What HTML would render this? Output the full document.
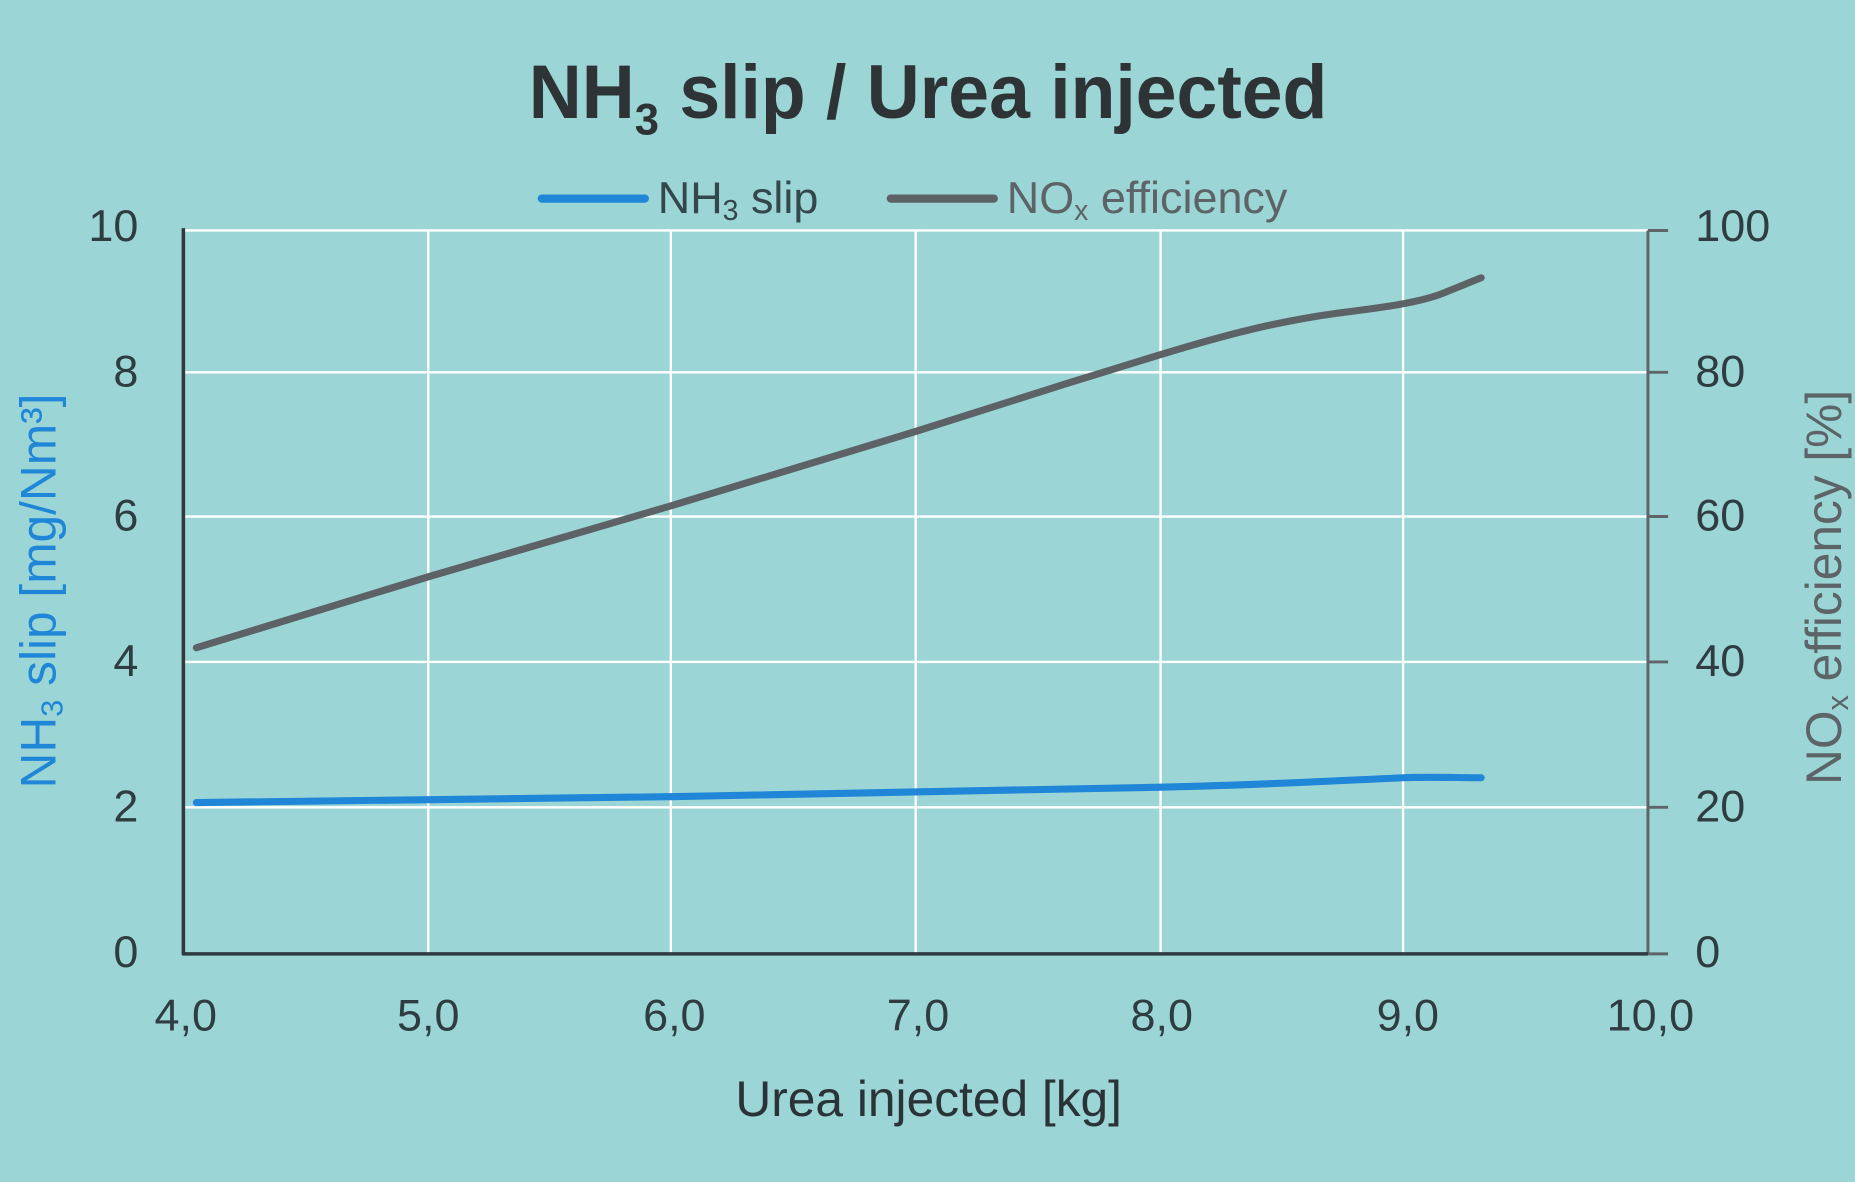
<!DOCTYPE html>
<html><head><meta charset="utf-8"><style>
html,body{margin:0;padding:0;background:#9cd5d5;}
svg{display:block;}
text{font-family:"Liberation Sans",sans-serif;}
</style></head><body>
<svg width="1855" height="1182" viewBox="0 0 1568 1000" preserveAspectRatio="none" xmlns="http://www.w3.org/2000/svg">
<rect x="0" y="0" width="1568" height="1000" fill="#9cd5d5"/>
<g stroke="#ffffff" stroke-width="2">
<line x1="155" y1="195" x2="1393" y2="195"/>
<line x1="155" y1="315" x2="1393" y2="315"/>
<line x1="155" y1="437" x2="1393" y2="437"/>
<line x1="155" y1="560" x2="1393" y2="560"/>
<line x1="155" y1="683" x2="1393" y2="683"/>
<line x1="362" y1="195" x2="362" y2="807"/>
<line x1="567" y1="195" x2="567" y2="807"/>
<line x1="774" y1="195" x2="774" y2="807"/>
<line x1="981" y1="195" x2="981" y2="807"/>
<line x1="1186" y1="195" x2="1186" y2="807"/>
</g>
<g stroke="#5f6468" stroke-width="2.5">
<line x1="1393" y1="195" x2="1393" y2="807"/>
<line x1="1393" y1="195" x2="1410" y2="195"/>
<line x1="1393" y1="315" x2="1410" y2="315"/>
<line x1="1393" y1="437" x2="1410" y2="437"/>
<line x1="1393" y1="560" x2="1410" y2="560"/>
<line x1="1393" y1="683" x2="1410" y2="683"/>
<line x1="1393" y1="807" x2="1410" y2="807"/>
</g>
<line x1="155" y1="193" x2="155" y2="808" stroke="#2f3b40" stroke-width="3"/>
<line x1="154" y1="807" x2="1393" y2="807" stroke="#2f3b40" stroke-width="3"/>
<path d="M166,548 L362,488 L567,428 L774,365 L900,325 L981,300 C1040,282 1080,272 1130,265 C1170,260 1200,256 1220,248 L1252,235" fill="none" stroke="#5c6266" stroke-width="6" stroke-linecap="round"/>
<path d="M166,679 L567,674 L981,666 C1060,664 1100,662 1186,658 C1210,657 1230,658 1252,658" fill="none" stroke="#1f86d8" stroke-width="6" stroke-linecap="round"/>
<g fill="#2f3d42" font-size="38" text-anchor="end">
<text x="117" y="204">10</text>
<text x="117" y="327">8</text>
<text x="117" y="449">6</text>
<text x="117" y="572">4</text>
<text x="117" y="695">2</text>
<text x="117" y="818">0</text>
</g>
<g fill="#2f3d42" font-size="38" text-anchor="start">
<text x="1433" y="204">100</text>
<text x="1433" y="327">80</text>
<text x="1433" y="449">60</text>
<text x="1433" y="572">40</text>
<text x="1433" y="695">20</text>
<text x="1433" y="818">0</text>
</g>
<g fill="#2f3d42" font-size="38" text-anchor="middle">
<text x="157" y="872">4,0</text>
<text x="362" y="872">5,0</text>
<text x="570" y="872">6,0</text>
<text x="776" y="872">7,0</text>
<text x="982" y="872">8,0</text>
<text x="1190" y="872">9,0</text>
<text x="1395" y="872">10,0</text>
</g>
<text x="785" y="944" fill="#2a3338" font-size="42" text-anchor="middle">Urea injected [kg]</text>
<text x="447" y="100" fill="#2e3336" font-size="64" font-weight="bold" textLength="675" lengthAdjust="spacingAndGlyphs">NH<tspan font-size="38" dy="14">3</tspan><tspan dy="-14"> slip / Urea injected</tspan></text>
<line x1="458" y1="168" x2="545" y2="168" stroke="#1f86d8" stroke-width="7" stroke-linecap="round"/>
<text x="556" y="180" fill="#33474d" font-size="38">NH<tspan font-size="24" dy="6">3</tspan><tspan dy="-6"> slip</tspan></text>
<line x1="753" y1="168" x2="840" y2="168" stroke="#5c6266" stroke-width="7" stroke-linecap="round"/>
<text x="851" y="180" fill="#5d6468" font-size="38">NO<tspan font-size="24" dy="6">x</tspan><tspan dy="-6"> efficiency</tspan></text>
<text transform="translate(47,500) rotate(-90)" fill="#1f86d8" font-size="42" text-anchor="middle">NH<tspan font-size="26" dy="6">3</tspan><tspan dy="-6"> slip [mg/Nm³]</tspan></text>
<text transform="translate(1556,497) rotate(-90)" fill="#5d6468" font-size="42" text-anchor="middle">NO<tspan font-size="26" dy="6">x</tspan><tspan dy="-6"> efficiency [%]</tspan></text>
</svg>
</body></html>
